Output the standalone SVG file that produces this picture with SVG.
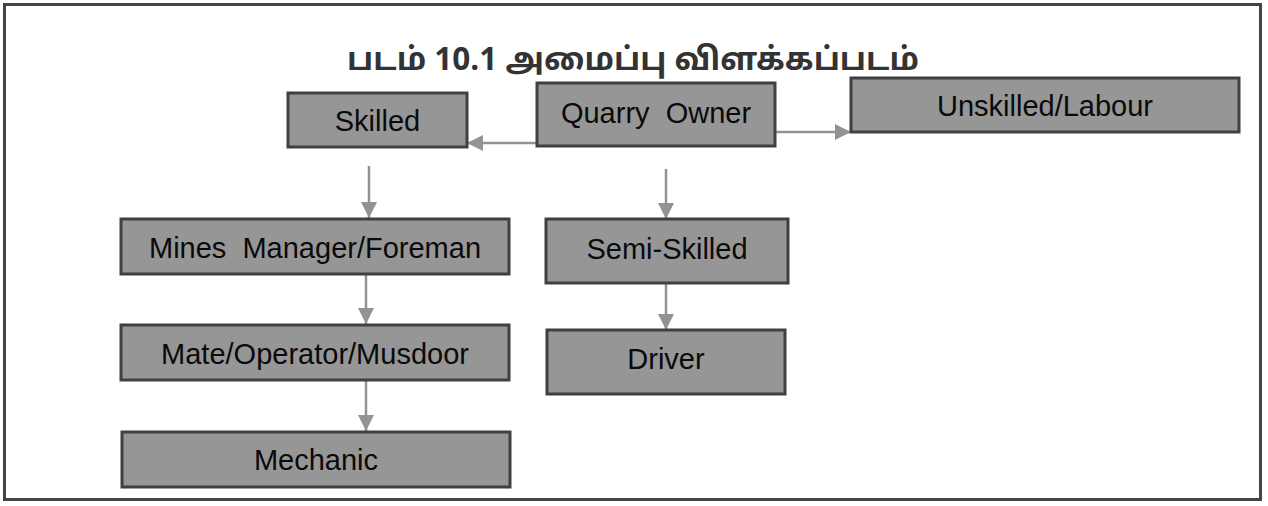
<svg xmlns="http://www.w3.org/2000/svg" width="1268" height="506" viewBox="0 0 1268 506">
<style>
.box{fill:#969696;stroke:#404040;stroke-width:3}
.lbl{font-family:"Liberation Sans",Arial,sans-serif;font-size:29px;fill:#0a0a0a;text-anchor:middle}
.con{stroke:#939393;stroke-width:2.5;fill:none;marker-end:url(#ah)}
.title{font-family:"Noto Sans Tamil","Latha","Noto Sans",sans-serif;font-size:31.5px;font-weight:bold;fill:#333;text-anchor:middle}
</style>
<defs>
<marker id="ah" markerUnits="userSpaceOnUse" markerWidth="16" markerHeight="16" refX="16" refY="8" orient="auto">
<path d="M0,0 L16,8 L0,16 z" fill="#939393"/>
</marker>
</defs>
<rect x="0" y="0" width="1268" height="506" fill="#fff"/>
<rect x="4.5" y="4.5" width="1256" height="495" fill="none" stroke="#444" stroke-width="3"/>
<text class="title" x="633" y="70">படம் 10.1 அமைப்பு விளக்கப்படம்</text>
<g id="connectors">
<line class="con" x1="537" y1="143" x2="467" y2="143"/>
<line class="con" x1="775" y1="132" x2="851" y2="132"/>
<line class="con" x1="369" y1="166" x2="369" y2="218"/>
<line class="con" x1="666" y1="169" x2="666" y2="219"/>
<line class="con" x1="366" y1="274" x2="366" y2="324"/>
<line class="con" x1="366" y1="380" x2="366" y2="431"/>
<line class="con" x1="666" y1="283" x2="666" y2="330"/>
</g>
<g id="skilled"><rect class="box" x="288" y="93" width="179" height="54"/><text class="lbl" x="377.5" y="131">Skilled</text></g>
<g id="quarry-owner"><rect class="box" x="537" y="83" width="238" height="63"/><text class="lbl" x="656" y="123" xml:space="preserve">Quarry  Owner</text></g>
<g id="unskilled"><rect class="box" x="851" y="78" width="388" height="54"/><text class="lbl" x="1045" y="116">Unskilled/Labour</text></g>
<g id="mines-manager"><rect class="box" x="121" y="219" width="388" height="55"/><text class="lbl" x="315" y="258" xml:space="preserve">Mines  Manager/Foreman</text></g>
<g id="mate"><rect class="box" x="121" y="325" width="388" height="55"/><text class="lbl" x="315" y="364">Mate/Operator/Musdoor</text></g>
<g id="mechanic"><rect class="box" x="122" y="432" width="388" height="55"/><text class="lbl" x="316" y="470">Mechanic</text></g>
<g id="semi-skilled"><rect class="box" x="546" y="219" width="242" height="64"/><text class="lbl" x="667" y="259">Semi-Skilled</text></g>
<g id="driver"><rect class="box" x="547" y="330" width="238" height="64"/><text class="lbl" x="666" y="369">Driver</text></g>
</svg>
